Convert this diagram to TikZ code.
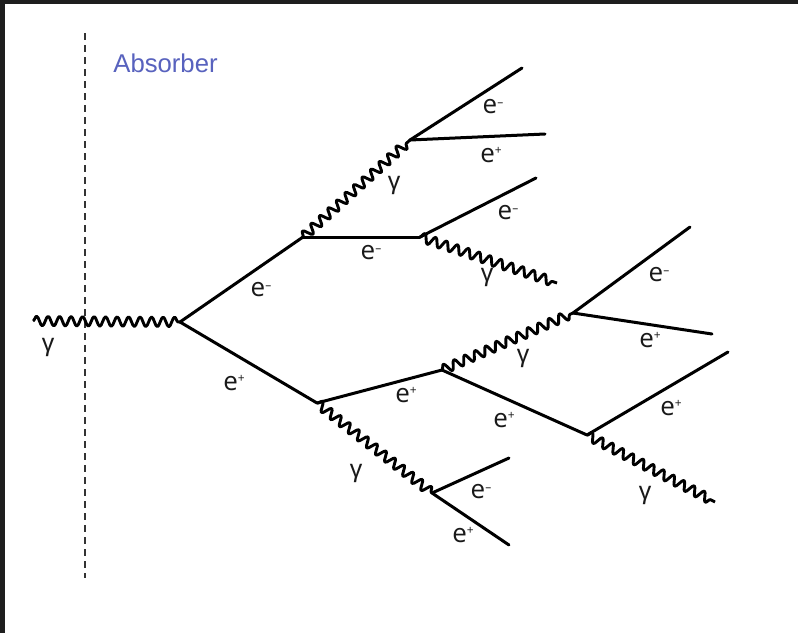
\documentclass[tikz,border=0pt]{standalone}
\usepackage{fontspec}
\setmainfont{Open Sans}
\newfontfamily\absfont{Liberation Sans}
\usetikzlibrary{decorations.pathmorphing}
\definecolor{absblue}{RGB}{88,98,190}
\definecolor{framec}{RGB}{30,30,30}
\newcommand\partlab[1]{e\raisebox{7.5pt}{\fontsize{12}{12}\selectfont #1}}
\newcommand\gamlab{{\absfont\fontsize{25}{25}\selectfont γ}}
\tikzset{
  lepton/.style={line width=3pt, line cap=round, line join=round},
  photon/.style={line width=2.9pt, line join=round,
    decorate, decoration={snake, segment length=11.5pt, amplitude=4.8pt}},
  plab/.style={font=\fontsize{26}{26}\selectfont, inner sep=0pt, text=black!90},
  absorberline/.style={line width=2.6pt, draw=black!80, dash pattern=on 7pt off 5pt}
}
\begin{document}
\begin{tikzpicture}[x=1pt,y=-1pt]
\useasboundingbox (0,0) rectangle (798,633);
\fill[white] (0,0) rectangle (798,633);
\fill[framec] (0,0) rectangle (798,4);
\fill[framec] (0,0) rectangle (5,633);

% absorber
\coordinate (abstop) at (85,33);
\coordinate (absbot) at (85,578);
\draw[absorberline] (abstop) -- (absbot);
\node[font=\absfont\fontsize{25.7}{25.7}\selectfont, text=absblue, inner sep=0pt] (abslab) at (165.5,63) {Absorber};

% vertices
\coordinate (s) at (33,321);
\coordinate (v0) at (180,322);
\coordinate (v1) at (303,237);
\coordinate (v2) at (317,403);
\coordinate (v3) at (410,140);
\coordinate (v4) at (420,237);
\coordinate (v5) at (442,370);
\coordinate (v6) at (432,493);
\coordinate (v7) at (573,313);
\coordinate (v8) at (587,435);
% free ends
\coordinate (a1) at (522,68);
\coordinate (a2) at (545,134);
\coordinate (a3) at (536,178);
\coordinate (a4) at (557,283);
\coordinate (a5) at (690,227);
\coordinate (a6) at (712,334);
\coordinate (a7) at (728,352);
\coordinate (a8) at (715,502);
\coordinate (a9) at (509,458);
\coordinate (a10) at (509,545);

% photons
\draw[photon] (s) -- (v0);
\draw[photon] (v1) -- (v3);
\draw[photon] (v4) -- (a4);
\draw[photon] (v2) -- (v6);
\draw[photon] (v5) -- (v7);
\draw[photon] (v8) -- (a8);

% leptons
\draw[lepton] (v0) -- (v1);
\draw[lepton] (v0) -- (v2);
\draw[lepton] (v1) -- (v4);
\draw[lepton] (v3) -- (a1);
\draw[lepton] (v3) -- (a2);
\draw[lepton] (v4) -- (a3);
\draw[lepton] (v2) -- (v5);
\draw[lepton] (v6) -- (a9);
\draw[lepton] (v6) -- (a10);
\draw[lepton] (v5) -- (v8);
\draw[lepton] (v7) -- (a5);
\draw[lepton] (v7) -- (a6);
\draw[lepton] (v8) -- (a7);

% labels
\node[plab] (l0) at (48,347) {\gamlab};
\node[plab] (l1) at (261,290) {\partlab{–}};
\node[plab] (l2) at (234,383) {\partlab{+}};
\node[plab] (l3) at (394,185) {\gamlab};
\node[plab] (l4) at (371,253) {\partlab{–}};
\node[plab] (l5) at (493,107) {\partlab{–}};
\node[plab] (l6) at (491,155) {\partlab{+}};
\node[plab] (l7) at (508,213) {\partlab{–}};
\node[plab] (l8) at (487,277) {\gamlab};
\node[plab] (l9) at (406,395) {\partlab{+}};
\node[plab] (l10) at (356,473) {\gamlab};
\node[plab] (l11) at (481,492) {\partlab{–}};
\node[plab] (l12) at (463,535) {\partlab{+}};
\node[plab] (l13) at (523,358) {\gamlab};
\node[plab] (l14) at (504,420) {\partlab{+}};
\node[plab] (l15) at (659,275) {\partlab{–}};
\node[plab] (l16) at (650,340) {\partlab{+}};
\node[plab] (l17) at (671,408) {\partlab{+}};
\node[plab] (l18) at (645,495) {\gamlab};
\end{tikzpicture}
\end{document}
